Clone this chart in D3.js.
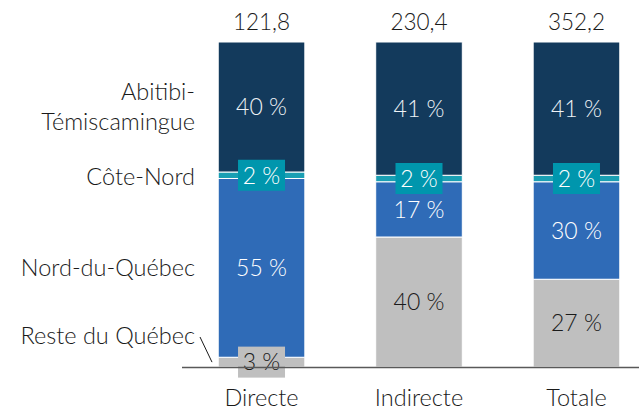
<!DOCTYPE html>
<html>
<head>
<meta charset="utf-8">
<script src="https://cdn.jsdelivr.net/npm/d3@7"></script>
<style>
  html, body { margin: 0; padding: 0; background: #fff; }
  svg text { font-family: Lato, "Open Sans", sans-serif; font-weight: 300; }
</style>
</head>
<body>
<svg id="chart" width="639" height="412"></svg>
<script>
// Répartition des retombées par région (%), du bas vers le haut de chaque colonne
const categories = ["Directe", "Indirecte", "Totale"];
const totals = ["121,8", "230,4", "352,2"];
const regions = ["Reste du Québec", "Nord-du-Québec", "Côte-Nord", "Abitibi-Témiscamingue"];
const resteDuQuebec = [3, 40, 27];
const nordDuQuebec = [55, 17, 30];
const coteNord = [2, 2, 2];
const abitibi = [40, 41, 41];

const seriesValues = [resteDuQuebec, nordDuQuebec, coteNord, abitibi];
const colors = ["#bfbfbf", "#2f6bb7", "#1a9fb3", "#133a5c"];
const textColors = ["#1a1a1a", "#ffffff", "#ffffff", "#eef2f6"];

const rows = categories.map((c, i) => {
  const r = { cat: c };
  regions.forEach((reg, j) => { r[reg] = seriesValues[j][i]; });
  return r;
});

const svg = d3.select("#chart");
// colonnes centrées à ~261, 419, 578
const x = d3.scaleBand().domain(categories).range([182, 656]).paddingInner(0.45).paddingOuter(0.23);
const y = d3.scaleLinear().domain([0, 100]).range([367, 42]);

const stack = d3.stack().keys(regions);
const layers = stack(rows);

const g = svg.append("g");

layers.forEach((layer, j) => {
  g.selectAll(null)
    .data(layer)
    .enter()
    .append("rect")
    .attr("x", d => x(d.data.cat))
    .attr("width", x.bandwidth())
    .attr("y", d => y(d[1]))
    .attr("height", d => y(d[0]) - y(d[1]))
    .attr("fill", colors[j])
    .attr("stroke", "#ffffff")
    .attr("stroke-width", 1);
});

// axe horizontal
svg.append("line")
  .attr("x1", 182).attr("x2", 639)
  .attr("y1", y(0) + 0.5).attr("y2", y(0) + 0.5)
  .attr("stroke", "#595959").attr("stroke-width", 1.5);

// étiquettes de pourcentage
layers.forEach((layer, j) => {
  layer.forEach(d => {
    const cx = x(d.data.cat) + x.bandwidth() / 2;
    const cy = (y(d[0]) + y(d[1])) / 2;
    const v = d[1] - d[0];
    const small = v < 5;
    if (small) {
      g.append("rect")
        .attr("x", cx - 23.5).attr("y", cy - 15.5)
        .attr("width", 47).attr("height", 31)
        .attr("fill", j === 0 ? "#bfbfbf" : "#0096ad");
    }
    g.append("text")
      .attr("x", cx).attr("y", cy)
      .attr("dy", "0.36em")
      .attr("text-anchor", "middle")
      .attr("font-size", 23)
      .attr("fill", textColors[j])
      .text(v + " %");
  });
});

// totaux au-dessus des colonnes
svg.selectAll(".total")
  .data(categories)
  .enter()
  .append("text")
  .attr("x", d => x(d) + x.bandwidth() / 2)
  .attr("y", 30)
  .attr("text-anchor", "middle")
  .attr("font-size", 22.5)
  .attr("fill", "#1a1a1a")
  .text((d, i) => totals[i]);

// catégories sous l'axe
svg.selectAll(".cat")
  .data(categories)
  .enter()
  .append("text")
  .attr("x", d => x(d) + x.bandwidth() / 2)
  .attr("y", 406)
  .attr("text-anchor", "middle")
  .attr("font-size", 23.5)
  .attr("fill", "#1a1a1a")
  .text(d => d);

// légende à gauche de la première colonne
const first = layers.map(l => l[0]);
const mid = j => (y(first[j][0]) + y(first[j][1])) / 2;
const legend = [
  { lines: ["Abitibi-", "Témiscamingue"], y: [100, 130] },
  { lines: ["Côte-Nord"], y: [185] },
  { lines: ["Nord-du-Québec"], y: [276] },
  { lines: ["Reste du Québec"], y: [344] }
];
legend.forEach(item => {
  item.lines.forEach((t, k) => {
    svg.append("text")
      .attr("x", 195).attr("y", item.y[k])
      .attr("text-anchor", "end")
      .attr("font-size", 23.5)
      .attr("fill", "#1a1a1a")
      .text(t);
  });
});
// trait de rappel vers le segment « Reste du Québec »
svg.append("line")
  .attr("x1", 200).attr("y1", 337)
  .attr("x2", 212).attr("y2", mid(0))
  .attr("stroke", "#1a1a1a").attr("stroke-width", 1);
</script>
</body>
</html>
